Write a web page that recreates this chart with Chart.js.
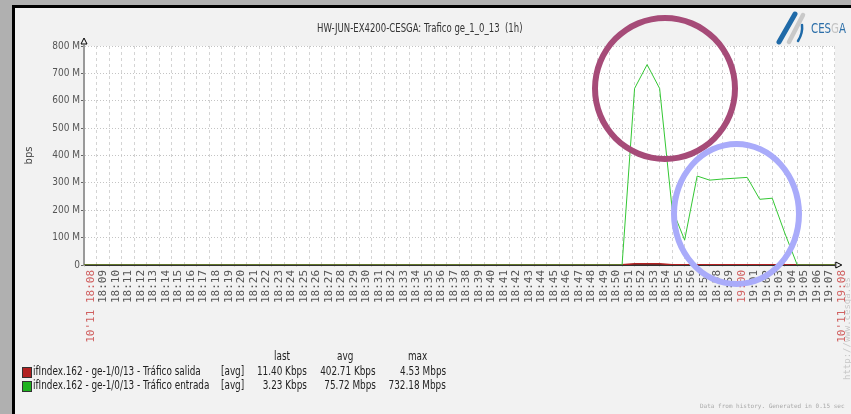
<!DOCTYPE html>
<html>
<head>
<meta charset="utf-8">
<script src="https://cdn.jsdelivr.net/npm/chart.js@4.4.0/dist/chart.umd.min.js"></script>
<style>
  body { margin: 0; background: #b0b0b0; width: 851px; height: 414px; overflow: hidden; position: relative;
         font-family: "DejaVu Sans Condensed", "DejaVu Sans", sans-serif; }
  #panel { position: absolute; left: 12px; top: 5px; width: 839px; height: 409px; background: #f2f2f2;
           border-left: 3px solid #000; border-top: 3px solid #000; box-sizing: border-box; }
  #wrap { position: absolute; left: 0; top: 0; width: 851px; height: 414px; }
  .t { position: absolute; white-space: nowrap; color: #222; font-size: 12px; transform: scaleX(0.82); transform-origin: left center; }
  .r { text-align: right; transform-origin: right center; }
  .sw { position: absolute; width: 8px; height: 9px; border: 1px solid #333; }
  .ring { position: absolute; border-radius: 50%; box-sizing: border-box; }
</style>
</head>
<body>
<div id="panel"></div>
<div id="wrap"><canvas id="myChart" width="851" height="414"></canvas></div>

<div class="t" style="left:317px; top:21px; color:#333; transform:scaleX(0.79);">HW-JUN-EX4200-CESGA: Trafico ge_1_0_13&nbsp; (1h)</div>

<svg style="position:absolute; left:770px; top:8px;" width="81" height="40">
  <line x1="9" y1="34" x2="25" y2="6" stroke="#1f6aa8" stroke-width="5" stroke-linecap="round"/>
  <line x1="19" y1="34" x2="33" y2="7" stroke="#c9c9c9" stroke-width="4.5" stroke-linecap="round"/>
  <path d="M28 33 Q33 25 32 17" stroke="#1f6aa8" stroke-width="2.5" fill="none" stroke-linecap="round"/>
  <text x="41" y="25" font-size="14" textLength="35" lengthAdjust="spacingAndGlyphs"
        font-family="DejaVu Sans Condensed, DejaVu Sans, sans-serif" fill="#2b6ea8">CES<tspan fill="#c4c4c4">G</tspan>A</text>
</svg>

<div class="sw" style="left:22px; top:367px; background:#b22222;"></div>
<div class="sw" style="left:22px; top:381px; background:#1fb21f;"></div>
<div class="t" style="left:274px; top:349px;">last</div>
<div class="t" style="left:337px; top:349px;">avg</div>
<div class="t" style="left:408px; top:349px;">max</div>
<div class="t" style="left:33px; top:364px;">ifIndex.162 - ge-1/0/13 - Tráfico salida</div>
<div class="t" style="left:33px; top:378px;">ifIndex.162 - ge-1/0/13 - Tráfico entrada</div>
<div class="t" style="left:221px; top:364px;">[avg]</div>
<div class="t" style="left:221px; top:378px;">[avg]</div>
<div class="t r" style="right:544px; top:364px;">11.40 Kbps</div>
<div class="t r" style="right:544px; top:378px;">3.23 Kbps</div>
<div class="t r" style="right:475px; top:364px;">402.71 Kbps</div>
<div class="t r" style="right:475px; top:378px;">75.72 Mbps</div>
<div class="t r" style="right:405px; top:364px;">4.53 Mbps</div>
<div class="t r" style="right:405px; top:378px;">732.18 Mbps</div>

<div style="position:absolute; left:700px; top:402px; font-size:6px; color:#aaa; white-space:nowrap; font-family:'DejaVu Sans Mono', monospace;">Data from history. Generated in 0.15 sec</div>
<div style="position:absolute; left:796px; top:324px; width:102px; font-size:9px; color:#c8c8c8; white-space:nowrap; font-family:'DejaVu Sans Mono', monospace; transform:rotate(-90deg); transform-origin:center;">http://www.cesga.es</div>

<div class="ring" style="left:592px; top:15px; width:146px; height:147px; border:6px solid #a64b78;"></div>
<div class="ring" style="left:671px; top:141px; width:131px; height:146px; border:6px solid #a9abfa;"></div>

<script>
// time axis, one label per minute
const timeLabels = [
  "10'11 18:08", '18:09', '18:10', '18:11', '18:12', '18:13', '18:14', '18:15', '18:16', '18:17',
  '18:18', '18:19', '18:20', '18:21', '18:22', '18:23', '18:24', '18:25', '18:26', '18:27',
  '18:28', '18:29', '18:30', '18:31', '18:32', '18:33', '18:34', '18:35', '18:36', '18:37',
  '18:38', '18:39', '18:40', '18:41', '18:42', '18:43', '18:44', '18:45', '18:46', '18:47',
  '18:48', '18:49', '18:50', '18:51', '18:52', '18:53', '18:54', '18:55', '18:56', '18:57',
  '18:58', '18:59', '19:00', '19:01', '19:02', '19:03', '19:04', '19:05', '19:06', '19:07',
  "10'11 19:08"
];
const redLabels = ["10'11 18:08", '19:00', "10'11 19:08"];

// Mbps
const salida = [
  0, 0, 0, 0, 0, 0, 0, 0, 0, 0,
  0, 0, 0, 0, 0, 0, 0, 0, 0, 0,
  0, 0, 0, 0, 0, 0, 0, 0, 0, 0,
  0, 0, 0, 0, 0, 0, 0, 0, 0, 0,
  0, 0, 0, 0.5, 4.3, 4.53, 4.4, 0.9, 0.9, 0.9,
  0.9, 0.9, 0.9, 0.9, 0.9, 0.9, 0.9, 0.02, 0.01, 0.01,
  0.01
];
const entrada = [
  0, 0, 0, 0, 0, 0, 0, 0, 0, 0,
  0, 0, 0, 0, 0, 0, 0, 0, 0, 0,
  0, 0, 0, 0, 0, 0, 0, 0, 0, 0,
  0, 0, 0, 0, 0, 0, 0, 0, 0, 0,
  0, 0, 0, 0, 645, 732, 645, 205, 91, 325,
  310, 314, 317, 320, 240, 244, 117, 0, 0, 0,
  0.003
];
const yTicks = [0, 100, 200, 300, 400, 500, 600, 700, 800];

const plotBg = {
  id: 'plotBg',
  beforeDraw(chart) {
    const c = chart.ctx, a = chart.chartArea;
    c.save();
    c.fillStyle = '#ffffff';
    c.fillRect(a.left, a.top, a.right - a.left, a.bottom - a.top);
    c.restore();
  },
  afterDraw(chart) {
    const c = chart.ctx, a = chart.chartArea;
    c.save();
    c.strokeStyle = '#000';
    c.lineWidth = 1;
    // arrow heads at the axis ends
    c.beginPath();
    c.moveTo(a.left - 3, a.top - 2); c.lineTo(a.left + 3, a.top - 2); c.lineTo(a.left, a.top - 8); c.closePath();
    c.stroke();
    c.beginPath();
    c.moveTo(a.right + 1, a.bottom - 3); c.lineTo(a.right + 1, a.bottom + 3); c.lineTo(a.right + 7, a.bottom); c.closePath();
    c.stroke();
    c.restore();
  }
};

let ctx1 = document.getElementById('myChart').getContext('2d');

let chart1 = new Chart(ctx1, {
  type: 'line',
  data: {
    labels: timeLabels,
    datasets: [{
      label: 'Tráfico entrada',
      data: entrada,
      borderColor: '#33c733',
      borderWidth: 1,
      pointRadius: 0,
      tension: 0,
      order: 1
    }, {
      label: 'Tráfico salida',
      data: salida,
      borderColor: '#b22222',
      borderWidth: 1.5,
      pointRadius: 0,
      tension: 0,
      order: 2
    }]
  },
  options: {
    responsive: false,
    animation: false,
    layout: { padding: { left: 23, top: 46, right: 15, bottom: 9 } },
    plugins: { legend: { display: false }, tooltip: { enabled: false } },
    scales: {
      x: {
        afterFit: (scale) => { scale.height = 140; },
        grid: { color: '#d4d4d4', tickLength: 2 },
        border: { color: '#333', width: 2, dash: [3, 3] },
        ticks: {
          autoSkip: false,
          maxRotation: 90,
          minRotation: 90,
          padding: 3,
          labelOffset: 7,
          font: { family: 'DejaVu Sans Mono', size: 11 },
          color: (c) => redLabels.includes(timeLabels[c.index]) ? '#d06060' : '#555'
        }
      },
      y: {
        min: 0,
        max: 800,
        afterFit: (scale) => { scale.width = 61; },
        afterBuildTicks: (scale) => { scale.ticks = yTicks.map(v => ({ value: v })); },
        grid: { color: '#c4c4c4', tickLength: 3, tickColor: '#666' },
        border: { color: '#9a9a9a', width: 2, dash: [1, 2] },
        title: {
          display: true,
          text: 'bps',
          padding: 0,
          color: '#444',
          font: { family: 'DejaVu Sans', size: 10 }
        },
        ticks: {
          padding: 1,
          color: '#555',
          font: { family: 'DejaVu Sans Condensed', size: 10 },
          callback: (v) => v === 0 ? '0' : v + ' M'
        }
      }
    }
  },
  plugins: [plotBg]
});
</script>
</body>
</html>
